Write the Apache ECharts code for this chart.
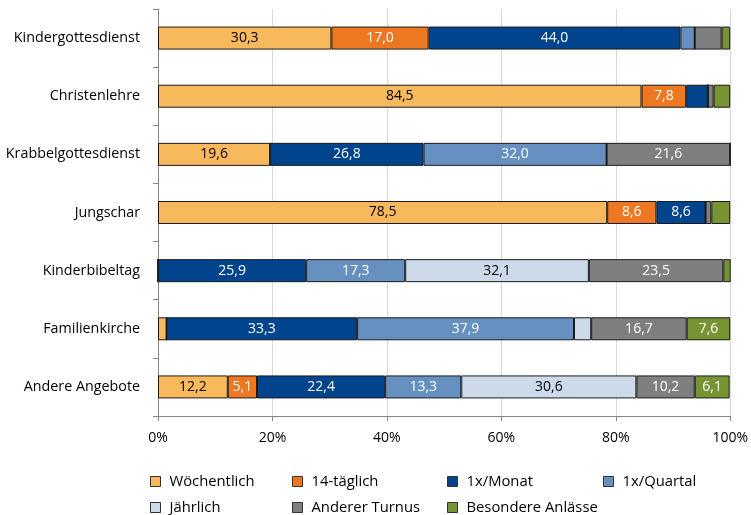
<!DOCTYPE html>
<html>
<head>
<meta charset="utf-8">
<script src="https://cdn.jsdelivr.net/npm/echarts@6/dist/echarts.min.js"></script>
<style>html,body{margin:0;padding:0;background:#fff;}#c{width:751px;height:515px;}</style>
</head>
<body>
<div id="c"></div>
<script>
const categories = ['Kindergottesdienst','Christenlehre','Krabbelgottesdienst','Jungschar','Kinderbibeltag','Familienkirche','Andere Angebote'];
const seriesNames = ['Wöchentlich','14-täglich','1x/Monat','1x/Quartal','Jährlich','Anderer Turnus','Besondere Anlässe'];
const woechentlich = [30.3, 84.5, 19.6, 78.5, 0, 1.5, 12.2];
const vierzehntaeglich = [17.0, 7.8, 0, 8.6, 0, 0, 5.1];
const monat = [44.0, 3.8, 26.8, 8.6, 25.9, 33.3, 22.4];
const quartal = [2.5, 0, 32.0, 0, 17.3, 37.9, 13.3];
const jaehrlich = [0, 0, 0, 0, 32.1, 3.0, 30.6];
const andererTurnus = [4.7, 1.0, 21.6, 1.0, 23.5, 16.7, 10.2];
const besondere = [1.5, 2.9, 0, 3.3, 1.3, 7.6, 6.1];
const xTicks = [0, 20, 40, 60, 80, 100];

const values = [woechentlich, vierzehntaeglich, monat, quartal, jaehrlich, andererTurnus, besondere];
const colors = ['#F8B85C','#EE7722','#00448E','#6590BF','#CCDAEA','#7F7F7F','#779433'];
const labelColors = ['#000','#fff','#fff','#fff','#000','#fff','#fff'];
const FONT = 'Open Sans';

const series = seriesNames.map((n, i) => ({
  name: n, type: 'bar', stack: 'total', barWidth: 23,
  data: values[i],
  itemStyle: { color: colors[i], borderColor: '#1a1a1a', borderWidth: 1 },
  label: {
    show: true, position: 'inside', color: labelColors[i], fontFamily: FONT, fontSize: 14,
    formatter: p => p.value >= 5 ? p.value.toFixed(1).replace('.', ',') : ''
  },
  emphasis: { disabled: true }
}));

const legendPos = [[150,474],[292,474],[447,474],[603,474],[150,500],[292,500],[447,500]];
const legends = seriesNames.map((n, i) => ({
  data: [n], left: legendPos[i][0], top: legendPos[i][1], padding: 0,
  itemWidth: 10, itemHeight: 10, itemGap: 0,
  icon: 'rect',
  itemStyle: { borderColor: '#333', borderWidth: 1 },
  textStyle: { fontFamily: FONT, fontSize: 14.8, color: '#000', padding: [0,0,0,4] },
  selectedMode: false
}));

const chart = echarts.init(document.getElementById('c'), null, { renderer: 'canvas' });
chart.setOption({
  animation: false,
  color: colors,
  grid: { left: 158, right: 18, top: 9, bottom: 99, containLabel: false },
  legend: legends,
  xAxis: {
    type: 'value', min: xTicks[0], max: xTicks[xTicks.length-1], interval: 20,
    axisLabel: { formatter: '{value}%', fontFamily: FONT, fontSize: 14, color: '#000', margin: 15 },
    axisLine: { show: true, lineStyle: { color: '#868686' } },
    axisTick: { show: true, length: 5, lineStyle: { color: '#868686' } },
    splitLine: { show: true, lineStyle: { color: '#D9D9D9' } }
  },
  yAxis: {
    type: 'category', data: categories, inverse: true,
    axisLabel: { fontFamily: FONT, fontSize: 14.3, color: '#000', margin: 18 },
    axisLine: { show: true, lineStyle: { color: '#868686' } },
    axisTick: { show: true, length: 5, lineStyle: { color: '#868686' } }
  },
  series: series
});
</script>
</body>
</html>
